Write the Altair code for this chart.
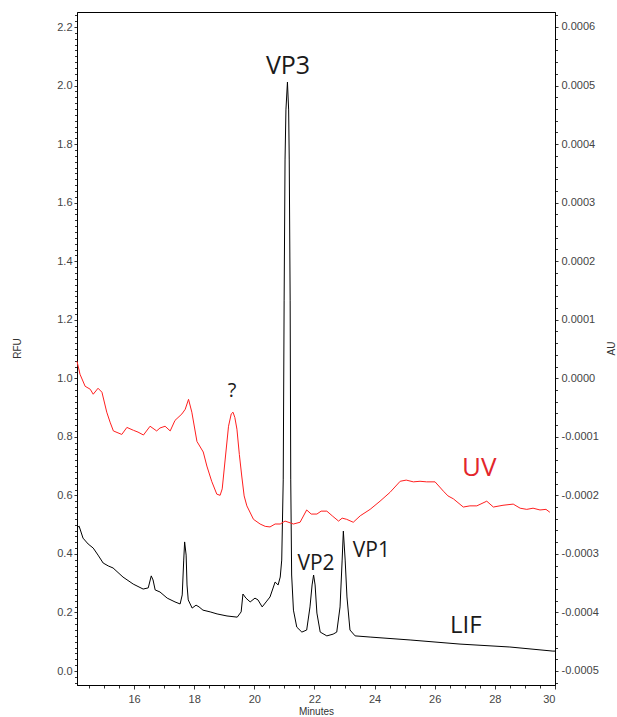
import altair as alt
import pandas as pd

# LIF trace (black), minutes vs RFU
lif_t = [14.10, 14.17, 14.30, 14.47, 14.64, 14.80, 14.97, 15.14, 15.30, 15.63, 15.97, 16.30,
         16.47, 16.57, 16.63, 16.70, 16.86, 17.10, 17.36, 17.53, 17.60, 17.65, 17.68, 17.73,
         17.76, 17.80, 17.93, 18.06, 18.16, 18.29, 18.53, 18.76, 19.09, 19.43, 19.56, 19.62,
         19.72, 19.86, 20.02, 20.12, 20.26, 20.39, 20.52, 20.69, 20.79, 20.86, 20.91, 20.96,
         20.99, 21.02, 21.05, 21.10, 21.14, 21.16, 21.19, 21.21, 21.24, 21.30, 21.41, 21.58,
         21.74, 21.85, 21.92, 21.97, 22.02, 22.08, 22.19, 22.41, 22.62, 22.74, 22.85, 22.92,
         22.96, 23.02, 23.08, 23.18, 23.35, 23.85, 25.18, 26.84, 28.50, 29.93, 30.00]
lif_rfu = [0.489, 0.495, 0.454, 0.434, 0.420, 0.396, 0.369, 0.359, 0.352, 0.321, 0.297, 0.280,
           0.284, 0.325, 0.311, 0.277, 0.270, 0.249, 0.236, 0.229, 0.260, 0.379, 0.441, 0.396,
           0.294, 0.243, 0.215, 0.225, 0.219, 0.208, 0.202, 0.195, 0.188, 0.184, 0.202, 0.263,
           0.249, 0.236, 0.249, 0.243, 0.219, 0.236, 0.253, 0.304, 0.294, 0.321, 0.379, 0.653,
           1.267, 1.746, 1.917, 2.012, 1.917, 1.746, 1.267, 0.653, 0.328, 0.208, 0.150, 0.133,
           0.140, 0.219, 0.294, 0.328, 0.294, 0.198, 0.133, 0.120, 0.126, 0.133, 0.219, 0.379,
           0.478, 0.379, 0.253, 0.140, 0.120, 0.116, 0.106, 0.092, 0.082, 0.068, 0.068]

# UV trace (red), minutes vs AU
uv_t = [14.10, 14.20, 14.37, 14.54, 14.64, 14.80, 14.93, 15.09, 15.20, 15.31, 15.59, 15.76,
        15.98, 16.13, 16.31, 16.53, 16.75, 16.86, 17.03, 17.20, 17.36, 17.59, 17.70, 17.81,
        17.92, 18.09, 18.30, 18.42, 18.58, 18.75, 18.86, 18.93, 19.03, 19.14, 19.23, 19.29,
        19.35, 19.42, 19.50, 19.58, 19.66, 19.75, 19.97, 20.19, 20.36, 20.52, 20.69, 20.86,
        21.02, 21.19, 21.30, 21.52, 21.74, 21.89, 22.08, 22.22, 22.41, 22.59, 22.80, 22.92,
        23.07, 23.29, 23.52, 23.85, 24.18, 24.51, 24.85, 25.05, 25.29, 25.51, 25.73, 26.01,
        26.29, 26.44, 26.62, 26.95, 27.17, 27.40, 27.73, 27.95, 28.27, 28.61, 28.84, 29.06,
        29.27, 29.50, 29.70, 29.83]
uv_au = [0.0000290, 0.0000068, -0.0000137, -0.0000188, -0.0000273, -0.0000171, -0.0000239,
         -0.000058, -0.000075, -0.000090, -0.000096, -0.000084, -0.000089, -0.000092, -0.000097,
         -0.000082, -0.000090, -0.000085, -0.000082, -0.000090, -0.000072, -0.000061, -0.000053,
         -0.000036, -0.000058, -0.000108, -0.000126, -0.000150, -0.000176, -0.000198, -0.000200,
         -0.000189, -0.000138, -0.000082, -0.000061, -0.000058, -0.000067, -0.000087, -0.000130,
         -0.000167, -0.000201, -0.000218, -0.000241, -0.000249, -0.000253, -0.000254, -0.000249,
         -0.000249, -0.000244, -0.000247, -0.000249, -0.000246, -0.000225, -0.000232, -0.000232,
         -0.000227, -0.000227, -0.000235, -0.000244, -0.000239, -0.000241, -0.000246, -0.000235,
         -0.000224, -0.000210, -0.000195, -0.000176, -0.000174, -0.000177, -0.000176, -0.000177,
         -0.000177, -0.000193, -0.000201, -0.000206, -0.000220, -0.000218, -0.000218, -0.000210,
         -0.000220, -0.000217, -0.000215, -0.000222, -0.000224, -0.000222, -0.000225, -0.000224,
         -0.000229]

# Annotations
lab_text = ["VP3", "VP2", "VP1", "LIF", "?"]
lab_t = [21.12, 22.05, 23.89, 27.03, 19.26]
lab_rfu = [2.040, 0.345, 0.389, 0.130, 0.936]
lab_size = [25, 21, 21, 24, 20]
uv_label = ["UV"]
uv_label_t = [27.48]
uv_label_au = [-0.000167]

x_ticks = [round(14.5 + 0.5 * i, 1) for i in range(32)]
left_ticks = [round(-0.04 + 0.02 * i, 2) for i in range(115)]
right_ticks = [round(-0.00052 + 0.00002 * i, 5) for i in range(58)]

lif_df = pd.DataFrame({"t": lif_t, "rfu": lif_rfu})
uv_df = pd.DataFrame({"t": uv_t, "au": uv_au})
lab_df = pd.DataFrame({"t": lab_t, "rfu": lab_rfu, "text": lab_text, "size": lab_size})
uvlab_df = pd.DataFrame({"t": uv_label_t, "au": uv_label_au, "text": uv_label})

FONT = "Liberation Sans"
common_axis = dict(labelFont=FONT, labelFontSize=11, labelColor="#444", titleFont=FONT,
                   titleFontSize=10, titleFontWeight="normal", titleColor="#333",
                   tickColor="#333", domainColor="#000", grid=False, labelOverlap=False)

x_major = "datum.value % 2 === 0"
xenc = alt.X("t:Q", scale=alt.Scale(domain=[14.1, 30], nice=False, zero=False),
             axis=alt.Axis(title="Minutes", values=x_ticks,
                           labelExpr=f"{x_major} ? format(datum.value, 'd') : ''",
                           tickSize={"condition": {"test": x_major, "value": 4}, "value": 3},
                           labelPadding=4, titleY=29, titleBaseline="alphabetic",
                           **common_axis))

l_major = "abs(datum.value*5 - round(datum.value*5)) < 0.001"
yleft = alt.Y("rfu:Q", scale=alt.Scale(domain=[-0.0478, 2.2515], nice=False, zero=False),
              axis=alt.Axis(title="RFU", orient="left", values=left_ticks,
                            labelExpr=f"{l_major} ? format(datum.value, '.1f') : ''",
                            tickSize={"condition": {"test": l_major, "value": 3}, "value": 2.5},
                            labelPadding=2, titleX=-55, titleY=336, titleAngle=-90,
                            **common_axis))

r_major = "abs(datum.value*10000 - round(datum.value*10000)) < 0.001"
yright = alt.Y("au:Q", scale=alt.Scale(domain=[-0.000524, 0.0006256], nice=False, zero=False),
               axis=alt.Axis(title="AU", orient="right", values=right_ticks,
                             labelExpr=f"{r_major} ? replace(format(datum.value, '.4f'), '\u2212', '-') : ''",
                             tickSize={"condition": {"test": r_major, "value": 3}, "value": 2.5},
                             labelPadding=3, titleX=61, titleY=336, titleAngle=-90,
                             **common_axis))

lif_line = alt.Chart(lif_df).mark_line(color="#000000", strokeWidth=1).encode(x=xenc, y=yleft)
labels = alt.Chart(lab_df).mark_text(font="Open Sans", color="#1a1a1a", baseline="alphabetic",
                                     align="center").encode(
    x=xenc, y=yleft, text="text:N", size=alt.Size("size:Q", scale=None, legend=None))

uv_line = alt.Chart(uv_df).mark_line(color="#ff1f1f", strokeWidth=1).encode(x=xenc, y=yright)
uv_text = alt.Chart(uvlab_df).mark_text(font="Open Sans", color="#e3262b", fontSize=26,
                                        baseline="alphabetic", align="center").encode(
    x=xenc, y=yright, text="text:N")

left_layer = alt.layer(lif_line, labels)
right_layer = alt.layer(uv_line, uv_text)

chart = alt.layer(left_layer, right_layer).resolve_scale(y="independent").properties(
    width=478, height=673,
    padding={"left": 77, "top": 12, "right": 62, "bottom": 32},
    autosize=alt.AutoSizeParams(type="none"),
    background="white",
).configure_view(stroke="#000", strokeWidth=1)

chart.save("out.html", embed_options={"renderer": "svg", "actions": False})
